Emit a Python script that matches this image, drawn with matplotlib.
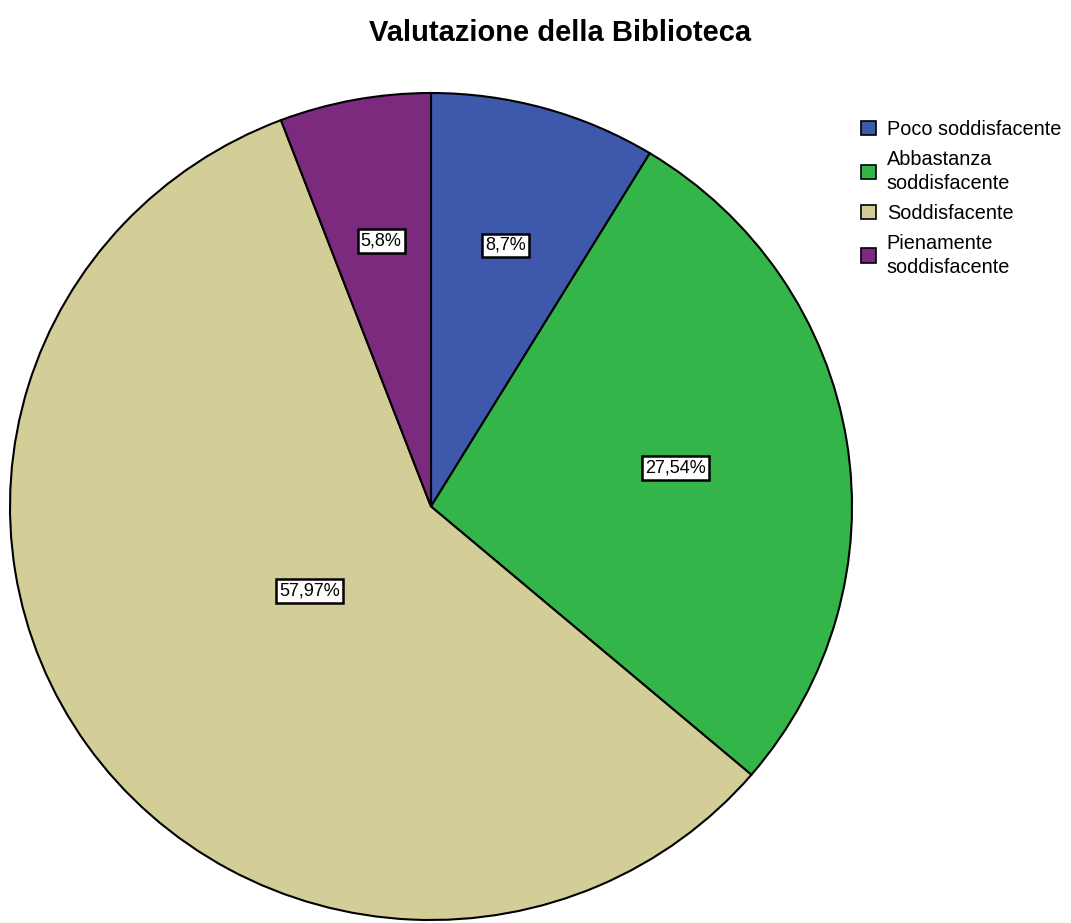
import numpy as np
import matplotlib
matplotlib.use("Agg")
import matplotlib.pyplot as plt
from matplotlib.patches import Patch

plt.rcParams['font.family'] = ['Liberation Sans', 'DejaVu Sans']

title = "Valutazione della Biblioteca"
categories = ["Poco soddisfacente", "Abbastanza\nsoddisfacente", "Soddisfacente", "Pienamente\nsoddisfacente"]
percentages = [8.7, 27.54, 57.97, 5.8]
pct_labels = ["8,7%", "27,54%", "57,97%", "5,8%"]
colors = ["#3E58AC", "#33B54A", "#D3CE97", "#7B2A7E"]
label_radii = [0.656, 0.589, 0.354, 0.653]

W, H = 1071, 923
fig = plt.figure(figsize=(W / 100, H / 100), dpi=100)
ax = fig.add_axes([10 / W, 3 / H, 842 / W, 827 / H])

wedges, _ = ax.pie(percentages, colors=colors, startangle=90, counterclock=False,
                   radius=1.0, wedgeprops=dict(edgecolor="black", linewidth=1.5))
ax.set_aspect('auto')
ax.set_xlim(-1, 1)
ax.set_ylim(-1, 1)
ax.axis('off')

for w, lab, r in zip(wedges, pct_labels, label_radii):
    mid = np.deg2rad((w.theta1 + w.theta2) / 2)
    ax.text(r * np.cos(mid), r * np.sin(mid), lab, ha='center', va='center',
            fontsize=13, color='black',
            bbox=dict(boxstyle='square,pad=0.18', facecolor='white',
                      edgecolor='black', linewidth=1.8))

fig.text(560 / W, 1 - 33 / H, title, ha='center', va='center',
         fontsize=21, fontweight='bold')

handles = [Patch(facecolor=c, edgecolor='black', linewidth=1.2) for c in colors]
leg = fig.legend(handles, categories, loc='upper left',
                 bbox_to_anchor=(861 / W, 1 - 120 / H), frameon=False,
                 fontsize=14.3, handlelength=0.75, handleheight=0.75,
                 handletextpad=0.55, labelspacing=0.55, borderaxespad=0, borderpad=0)
for t in leg.get_texts():
    t.set_linespacing(1.33)

fig.savefig("out.png", dpi=100, facecolor='white')
